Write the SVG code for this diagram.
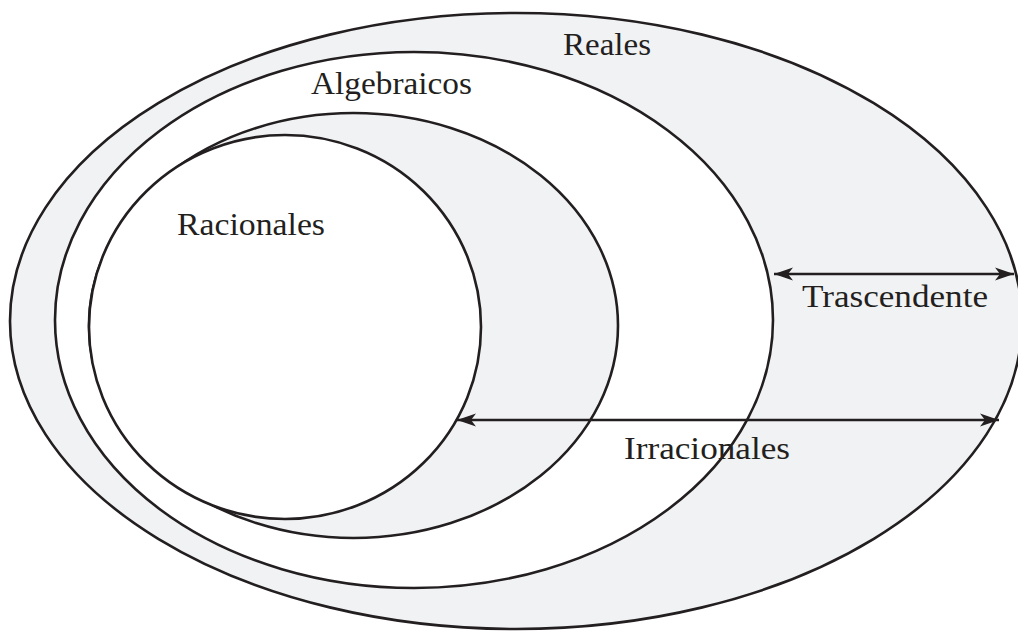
<svg xmlns="http://www.w3.org/2000/svg" width="1018" height="632" viewBox="0 0 1018 632">
  <style>
    .set { stroke: #231f20; stroke-width: 2.6; }
    .gray { fill: #f1f2f4; }
    .white { fill: #ffffff; }
    .lbl { font-family: "Liberation Serif", "DejaVu Serif", serif; font-size: 32px; fill: #231f20; }
    .conn { stroke: #231f20; stroke-width: 2.4; fill: none; }
  </style>
  <defs>
    <marker id="arr" markerUnits="userSpaceOnUse" markerWidth="20" markerHeight="14" viewBox="0 0 20 14" refX="19" refY="7" orient="auto-start-reverse">
      <path d="M0,0.5 L19,7 L0,13.5 L5,7 Z" fill="#231f20"/>
    </marker>
  </defs>
  <rect width="1018" height="632" fill="#ffffff"/>
  <g id="reales">
    <ellipse class="set gray" cx="516" cy="321" rx="506" ry="308"/>
    <text class="lbl" x="563" y="55" textLength="88" lengthAdjust="spacingAndGlyphs">Reales</text>
  </g>
  <g id="algebraicos">
    <ellipse class="set white" cx="414" cy="320" rx="359" ry="268"/>
    <text class="lbl" x="311" y="94" textLength="161" lengthAdjust="spacingAndGlyphs">Algebraicos</text>
  </g>
  <g id="construibles">
    <ellipse class="set gray" cx="353.5" cy="325.5" rx="264.5" ry="212.5"/>
    <text class="lbl" x="249" y="427" textLength="177" lengthAdjust="spacingAndGlyphs">Construibles</text>
  </g>
  <g id="racionales">
    <ellipse class="set white" cx="285" cy="327" rx="196" ry="192"/>
    <text class="lbl" x="177" y="235" textLength="148" lengthAdjust="spacingAndGlyphs">Racionales</text>
  </g>
  <g id="connectors">
    <line class="conn" x1="774" y1="274" x2="1014" y2="274" marker-start="url(#arr)" marker-end="url(#arr)"/>
    <line class="conn" x1="457" y1="420" x2="999" y2="420" marker-start="url(#arr)" marker-end="url(#arr)"/>
  </g>
  <g id="trascendente">
    <text class="lbl" x="802" y="307" textLength="186" lengthAdjust="spacingAndGlyphs">Trascendente</text>
  </g>
  <g id="irracionales">
    <text class="lbl" x="624" y="459" textLength="166" lengthAdjust="spacingAndGlyphs">Irracionales</text>
  </g>
</svg>
